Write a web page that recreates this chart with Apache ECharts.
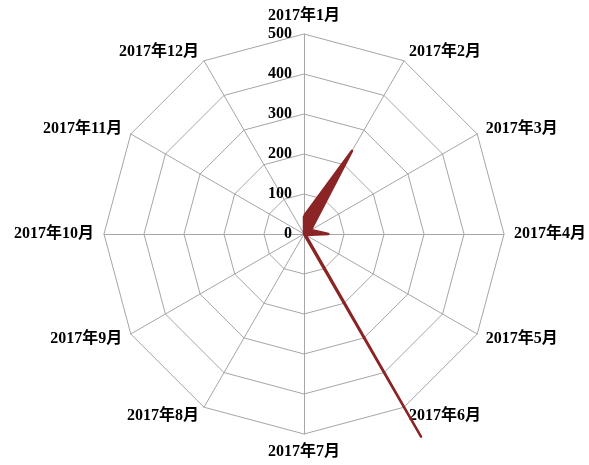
<!DOCTYPE html>
<html lang="zh">
<head>
    <meta charset="UTF-8">
    <title>雷达图</title>
    <script src="https://cdn.jsdelivr.net/npm/echarts@6/dist/echarts.min.js"></script>
</head>
<body style="margin:0;">
<div id="container" style="width:589px;height:465px;"></div>
<script>
    // 月份
    var months = ['2017年1月', '2017年2月', '2017年3月', '2017年4月', '2017年5月', '2017年6月',
        '2017年7月', '2017年8月', '2017年9月', '2017年10月', '2017年11月', '2017年12月'];
    // 数值
    var values = [45, 240, 20, 61, 5, 585, 0, 0, 0, 0, 0, 0];
    var maxValue = 500;

    var labelFont = 'Liberation Serif, Times New Roman, Noto Sans CJK SC, serif';

    // 雷达默认逆时针排列，这里把1月之后的顺序倒过来，让月份顺时针排列
    var order = [0];
    for (var k = months.length - 1; k > 0; k--) {
        order.push(k);
    }

    var indicator = order.map(function (i) {
        var item = {name: months[i], max: maxValue, min: 0};
        if (i === 0) {
            // 只在第一条轴上显示刻度
            item.axisLabel = {
                show: true,
                color: '#000',
                fontWeight: 'bold',
                fontSize: 16,
                fontFamily: labelFont,
                align: 'right',
                margin: 12
            };
        }
        return item;
    });
    var seriesValues = order.map(function (i) {
        return values[i];
    });

    var myChart = echarts.init(document.getElementById('container'));
    myChart.setOption({
        backgroundColor: '#fff',
        animation: false,
        radar: {
            center: [304, 234],
            radius: 200,
            startAngle: 90,
            splitNumber: 5,
            shape: 'polygon',
            indicator: indicator,
            nameGap: 10,
            axisName: {
                color: '#000',
                fontWeight: 'bold',
                fontSize: 16,
                fontFamily: labelFont
            },
            axisLabel: {show: false},
            axisLine: {lineStyle: {color: '#a6a6a6', width: 1}},
            splitLine: {lineStyle: {color: '#a6a6a6', width: 1}},
            splitArea: {show: false}
        },
        series: [{
            type: 'radar',
            symbol: 'none',
            lineStyle: {color: '#8b2525', width: 2.5},
            areaStyle: {color: '#8b2525', opacity: 1},
            data: [{value: seriesValues, name: '数量'}]
        }]
    });
</script>
</body>
</html>
